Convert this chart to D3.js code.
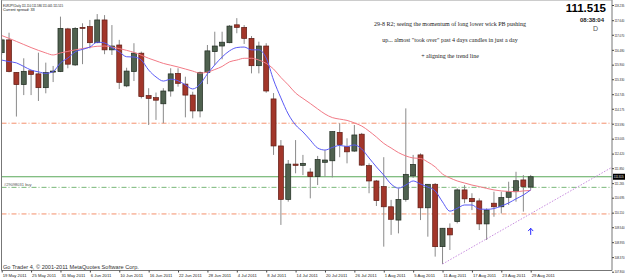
<!DOCTYPE html>
<html>
<head>
<meta charset="utf-8">
<style>
  body { margin: 0; background: #fff; }
  text { font-family: "Liberation Sans", Arial, sans-serif; }
</style>
</head>
<body>
<script src="https://d3js.org/d3.v7.min.js"></script>
<svg id="chart" width="625" height="279"></svg>
<script>
// daily bars, EURJPY 19 May - 29 Aug 2011
const dates = [
  '2011-05-19','2011-05-20','2011-05-23','2011-05-24','2011-05-25','2011-05-26','2011-05-27','2011-05-30','2011-05-31',
  '2011-06-01','2011-06-02','2011-06-03','2011-06-06','2011-06-07','2011-06-08','2011-06-09','2011-06-10','2011-06-13',
  '2011-06-14','2011-06-15','2011-06-16','2011-06-17','2011-06-20','2011-06-21','2011-06-22','2011-06-23','2011-06-24',
  '2011-06-27','2011-06-28','2011-06-29','2011-06-30',
  '2011-07-01','2011-07-04','2011-07-05','2011-07-06','2011-07-07','2011-07-08','2011-07-11','2011-07-12','2011-07-13',
  '2011-07-14','2011-07-15','2011-07-18','2011-07-19','2011-07-20','2011-07-21','2011-07-22','2011-07-25','2011-07-26',
  '2011-07-27','2011-07-28','2011-07-29',
  '2011-08-01','2011-08-02','2011-08-03','2011-08-04','2011-08-05','2011-08-08','2011-08-09','2011-08-10','2011-08-11',
  '2011-08-12','2011-08-15','2011-08-16','2011-08-17','2011-08-18','2011-08-19','2011-08-22','2011-08-23','2011-08-24',
  '2011-08-25','2011-08-26','2011-08-29'
];
const open = [116.37,116.87,115.60,115.12,115.66,115.54,115.00,115.61,115.63,117.30,
  115.89,117.36,117.39,116.76,117.65,116.48,116.67,115.07,115.63,116.35,
  114.69,114.61,114.37,114.87,115.56,115.14,114.71,114.09,115.60,116.41,
  116.63,116.76,117.46,117.36,116.93,115.86,116.63,114.56,112.72,110.63,
  112.01,111.96,111.70,111.52,112.08,112.14,113.25,112.69,112.52,113.18,
  111.95,111.35,111.13,110.34,109.82,110.63,111.55,112.37,110.30,111.22,
  108.78,109.50,109.76,111.00,110.67,110.57,109.67,110.48,110.34,110.71,
  110.93,111.39,111.110];
const high = [116.94,117.15,115.61,116.15,115.69,116.37,115.98,115.85,117.78,117.34,
  117.37,117.52,117.65,117.88,117.84,117.45,116.87,115.78,116.74,116.41,
  114.98,114.81,114.98,115.76,115.76,115.43,114.84,115.63,116.67,117.19,
  117.19,117.45,117.72,117.45,117.02,116.80,116.74,114.79,112.95,112.17,
  112.95,112.37,111.85,112.33,112.56,113.29,113.61,113.02,113.54,113.23,
  112.04,111.39,112.28,110.61,111.06,114.19,112.37,112.43,111.23,111.27,
  109.51,109.69,111.06,111.19,110.87,110.67,110.28,110.93,110.93,111.32,
  111.71,111.58,111.586];
const low = [116.28,115.60,113.87,114.71,114.71,114.48,114.78,115.22,115.61,115.76,
  115.85,115.92,116.54,116.74,116.31,116.28,114.95,115.02,115.26,114.58,
  113.54,113.74,113.61,114.65,115.04,113.84,113.80,113.84,115.14,115.89,
  116.11,116.74,117.13,116.71,115.56,115.56,114.80,112.37,109.63,110.54,
  111.65,111.58,110.67,111.19,111.52,111.49,112.28,112.04,112.49,111.94,
  110.87,110.37,108.78,109.24,109.30,110.54,111.47,109.82,109.17,108.39,
  108.10,108.65,109.69,110.48,110.21,109.43,109.04,109.95,110.08,110.41,
  110.54,110.15,111.005];
const close = [116.87,115.63,115.12,115.64,115.52,115.00,115.59,115.65,117.32,115.92,
  117.32,117.33,116.76,117.65,116.48,116.63,115.21,115.65,116.35,114.65,
  114.58,114.51,114.87,115.54,115.17,114.71,114.09,115.60,116.44,116.63,
  116.78,117.41,117.36,116.93,115.86,116.63,114.87,112.72,110.63,112.01,
  111.96,112.04,111.52,112.19,112.17,113.28,112.78,112.49,113.15,111.97,
  111.35,110.58,110.34,109.85,110.63,111.61,112.00,110.30,111.22,108.78,
  109.50,109.24,111.00,110.65,110.54,109.67,110.21,110.34,110.70,110.93,
  111.36,111.13,111.515];

// moving averages
const maFast = [116.08,116.02,115.97,115.83,115.69,115.62,115.56,115.63,115.97,116.16,
  116.40,116.50,116.59,116.78,116.75,116.57,116.40,116.21,116.20,116.08,
  115.69,115.42,115.26,115.33,115.27,115.11,114.95,115.14,115.54,115.89,
  116.20,116.44,116.57,116.59,116.48,116.48,116.16,115.30,114.60,113.97,
  113.54,113.27,112.95,112.64,112.56,112.66,112.74,112.70,112.76,112.60,
  112.25,111.90,111.58,111.23,111.07,111.19,111.35,111.23,111.11,110.96,
  110.53,110.17,110.28,110.41,110.41,110.25,110.24,110.27,110.37,110.49,
  110.65,110.80,111.00];
const maSlow = [117.04,116.93,116.81,116.69,116.57,116.46,116.36,116.28,116.36,116.42,
  116.48,116.53,116.58,116.62,116.63,116.59,116.53,116.46,116.38,116.27,
  116.15,116.05,115.95,115.88,115.81,115.73,115.65,115.57,115.61,115.71,
  115.83,116.01,116.08,116.15,116.15,116.08,115.95,115.73,115.40,115.11,
  114.79,114.58,114.38,114.17,113.97,113.83,113.77,113.72,113.62,113.50,
  113.30,113.07,112.82,112.64,112.46,112.33,112.25,112.23,112.09,111.90,
  111.62,111.47,111.35,111.27,111.19,111.13,111.06,111.00,110.96,110.94,
  110.93,110.96,110.98];

const priceTicks = [118.235,117.640,117.070,116.480,115.900,115.330,114.745,114.175,113.590,
  113.005,112.420,111.850,111.265,110.695,110.110,109.540,108.955,108.370,107.800];
const dateTicks = ['2011-05-19','2011-05-25','2011-05-31','2011-06-06','2011-06-10','2011-06-16',
  '2011-06-22','2011-06-28','2011-07-04','2011-07-08','2011-07-14','2011-07-20','2011-07-26',
  '2011-08-01','2011-08-05','2011-08-11','2011-08-17','2011-08-23','2011-08-29'];

const levels = [113.61, 110.06];      // orange dash-dot
const bid = 111.515;
const orderPrice = 111.10;
const trendFrom = ['2011-08-11', 108.10];
const trendTo = ['2011-08-29', 110.07];
const notes = [
  '29-8 R2; seeing the momentum of long lower wick PB pushing',
  'up... almost "took over" past 4 days candles in just a day',
  '+ aligning the trend line'
];

const svg = d3.select('#chart');
const plotL = 1.5, plotR = 612, plotB = 270.5;

const parse = d3.timeParse('%Y-%m-%d');
const fmt = d3.timeFormat('%-d %b %Y');

const x = d3.scalePoint().domain(dates).range([1.7, 530.7]);
const y = d3.scaleLinear().domain([107.8, 118.235]).range([271.7, 5]);

svg.append('rect').attr('width', 625).attr('height', 279).attr('fill', '#fff');

svg.append('defs').append('clipPath').attr('id', 'plot')
   .append('rect').attr('x', plotL).attr('y', 0).attr('width', plotR - plotL).attr('height', plotB);

const g = svg.append('g').attr('clip-path', 'url(#plot)');

// horizontal lines
g.selectAll('.lvl').data(levels).enter().append('line')
 .attr('x1', plotL).attr('x2', plotR)
 .attr('y1', d => y(d)).attr('y2', d => y(d))
 .attr('stroke', '#f4906c').attr('stroke-dasharray', '5,2,1,2');

g.append('line').attr('x1', plotL).attr('x2', plotR)
 .attr('y1', y(orderPrice)).attr('y2', y(orderPrice))
 .attr('stroke', '#78b878').attr('stroke-dasharray', '5,2,1,2');

g.append('line').attr('x1', plotL).attr('x2', plotR)
 .attr('y1', y(bid)).attr('y2', y(bid))
 .attr('stroke', '#5aa85a');

// candles
const bars = dates.map((d, i) => ({d, o: open[i], h: high[i], l: low[i], c: close[i]}));
const bw = 5;

g.append('g').selectAll('line').data(bars).enter().append('line')
 .attr('x1', d => x(d.d)).attr('x2', d => x(d.d))
 .attr('y1', d => y(d.h)).attr('y2', d => y(d.l))
 .attr('stroke', '#8a8a8a');

g.append('g').selectAll('rect').data(bars).enter().append('rect')
 .attr('x', d => x(d.d) - bw / 2)
 .attr('y', d => y(Math.max(d.o, d.c)))
 .attr('width', bw)
 .attr('height', d => Math.max(1, Math.abs(y(d.o) - y(d.c))))
 .attr('fill', d => d.c >= d.o ? '#4f614f' : '#a2362a')
 .attr('stroke', d => d.c >= d.o ? '#1f2a1f' : '#5e1c14')
 .attr('stroke-width', 0.7);

// moving averages
const line = d3.line().x((v, i) => x(dates[i])).y(v => y(v)).curve(d3.curveMonotoneX);
g.append('path').datum(maSlow).attr('d', line).attr('fill', 'none').attr('stroke', '#f27a86').attr('stroke-width', 1);
g.append('path').datum(maFast).attr('d', line).attr('fill', 'none').attr('stroke', '#5a5af5').attr('stroke-width', 1);

// trend line, extended to the right edge
const tx1 = x(trendFrom[0]), ty1 = y(trendFrom[1]);
const tx2 = x(trendTo[0]), ty2 = y(trendTo[1]);
const slope = (ty2 - ty1) / (tx2 - tx1);
g.append('line').attr('x1', tx1).attr('y1', ty1)
 .attr('x2', plotR).attr('y2', ty1 + slope * (plotR - tx1))
 .attr('stroke', '#c98ee0').attr('stroke-dasharray', '1.5,1.5');

// up arrow
const ax = x(dates[dates.length - 1]);
const aTop = y(109.50), aBot = y(109.24);
g.append('path')
 .attr('d', `M${ax},${aBot}V${aTop}M${ax - 2.5},${aTop + 2.8}L${ax},${aTop}L${ax + 2.5},${aTop + 2.8}`)
 .attr('fill', 'none').attr('stroke', '#2a2aff').attr('stroke-width', 1);

// order label
g.append('text').text('#29098031 buy').attr('x', 4).attr('y', y(orderPrice) - 1.8)
 .attr('font-size', '4px').attr('fill', '#555');

// frame
svg.append('path')
 .attr('d', `M${plotL},0V${plotB}H${plotR}V0`)
 .attr('fill', 'none').attr('stroke', '#777').attr('stroke-width', 1);
svg.append('line').attr('x1', plotL).attr('x2', plotR).attr('y1', 0.5).attr('y2', 0.5)
 .attr('stroke', '#999').attr('stroke-dasharray', '1,1');

// price axis (labels narrowed so they stay inside the window)
const yAxis = d3.axisRight(y).tickValues(priceTicks).tickSize(2).tickPadding(0.4)
  .tickFormat(d3.format('.3f'));
const ya = svg.append('g').attr('transform', `translate(${plotR},0)`).call(yAxis);
ya.select('.domain').remove();
ya.selectAll('line').attr('stroke', '#444');
ya.selectAll('text').attr('font-size', '4px').attr('fill', '#222')
  .attr('x', 0).attr('transform', 'translate(2.4,0) scale(0.7,1)');

// bid price box
svg.append('rect').attr('x', plotR + 1).attr('y', y(bid) - 3).attr('width', 12).attr('height', 6).attr('fill', '#000');
svg.append('text').text(d3.format('.3f')(bid))
 .attr('transform', `translate(${plotR + 1.8},${y(bid) + 1.5}) scale(0.7,1)`)
 .attr('font-size', '4px').attr('fill', '#fff');

// date axis
const xAxis = d3.axisBottom(x).tickValues(dateTicks).tickSize(2).tickPadding(1)
  .tickFormat(d => fmt(parse(d)));
const xa = svg.append('g').attr('transform', `translate(0,${plotB})`).call(xAxis);
xa.select('.domain').remove();
xa.selectAll('line').attr('stroke', '#444');
xa.selectAll('text').attr('font-size', '4.2px').attr('fill', '#222')
  .attr('text-anchor', 'start').attr('x', 0.5).attr('dy', '0.9em');

// header texts
svg.append('text').text('EURJPY,Daily  111.110 111.586 111.005 111.515')
 .attr('x', 3).attr('y', 6.5).attr('font-size', '3.8px').attr('fill', '#111')
 .attr('textLength', 60).attr('lengthAdjust', 'spacingAndGlyphs');
svg.append('text').text('Current spread: 33')
 .attr('x', 3).attr('y', 11).attr('font-size', '3.8px').attr('fill', '#111');

svg.append('text').text('111.515').attr('x', 606).attr('y', 12)
 .attr('text-anchor', 'end').attr('font-size', '11.5px').attr('font-weight', 'bold').attr('fill', '#000');
svg.append('text').text('08:38:04').attr('x', 604).attr('y', 21.5)
 .attr('text-anchor', 'end').attr('font-size', '6px').attr('font-weight', 'bold').attr('fill', '#222');
svg.append('text').text('D').attr('x', 595.5).attr('y', 31)
 .attr('text-anchor', 'middle').attr('font-size', '7px').attr('fill', '#555');

svg.selectAll('.note').data(notes).enter().append('text')
 .text(d => d)
 .attr('x', 450).attr('y', (d, i) => 25.5 + i * 16.3)
 .attr('text-anchor', 'middle')
 .style('font-family', '"Liberation Serif", "Times New Roman", serif')
 .attr('font-size', '6px').attr('fill', '#222');

svg.append('text').text('Go Trader 4, \u00a9 2001-2011 MetaQuotes Software Corp.')
 .attr('x', 3).attr('y', 269).attr('font-size', '5.6px').attr('fill', '#333');
</script>
</body>
</html>
